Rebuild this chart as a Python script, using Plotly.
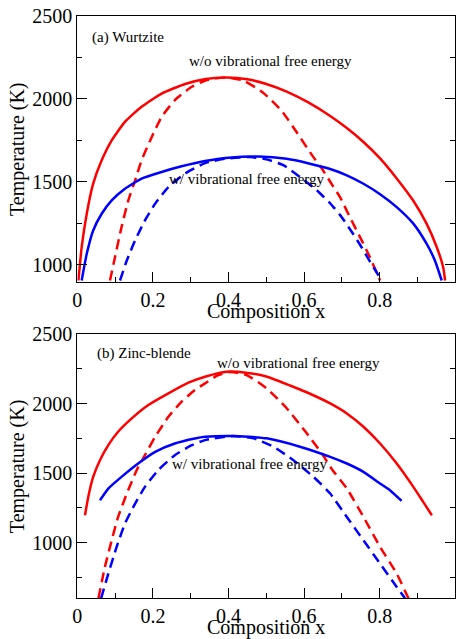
import plotly.graph_objects as go

# ---------------- Panel (a) Wurtzite ----------------
a_red_solid_x = [0.003, 0.0116, 0.025, 0.042, 0.0645, 0.091, 0.126, 0.170, 0.223, 0.285, 0.340,
                 0.395, 0.450, 0.500, 0.554, 0.610, 0.669, 0.713, 0.757, 0.801, 0.845, 0.889,
                 0.924, 0.951, 0.968, 0.973]
a_red_solid_y = [904, 1105, 1307, 1488, 1629, 1750, 1861, 1952, 2032, 2090, 2120,
                 2129, 2118, 2090, 2044, 1980, 1897, 1824, 1740, 1641, 1520, 1385,
                 1247, 1105, 984, 904]

a_red_dash_x = [0.0865, 0.0997, 0.117, 0.135, 0.153, 0.170, 0.197, 0.223, 0.258, 0.303, 0.345,
                0.395, 0.440, 0.490, 0.540, 0.580, 0.624, 0.647, 0.669, 0.695, 0.721, 0.748,
                0.774, 0.801]
a_red_dash_y = [904, 1045, 1226, 1388, 1508, 1629, 1770, 1891, 1992, 2073, 2115,
                2129, 2110, 2040, 1930, 1800, 1650, 1580, 1500, 1407, 1287, 1166,
                1045, 904]

a_blue_solid_x = [0.0116, 0.025, 0.042, 0.0645, 0.091, 0.126, 0.170, 0.223, 0.276, 0.338,
                  0.400, 0.480, 0.554, 0.610, 0.669, 0.713, 0.757, 0.801, 0.845, 0.889,
                  0.924, 0.946, 0.964]
a_blue_solid_y = [904, 1065, 1206, 1307, 1388, 1458, 1519, 1559, 1593, 1625,
                  1645, 1652, 1638, 1612, 1577, 1539, 1488, 1425, 1347, 1247,
                  1126, 1025, 904]

a_blue_dash_x = [0.113, 0.131, 0.153, 0.179, 0.206, 0.241, 0.285, 0.338, 0.395, 0.457,
                 0.500, 0.545, 0.589, 0.633, 0.669, 0.695, 0.721, 0.748, 0.774, 0.805]
a_blue_dash_y = [904, 1025, 1146, 1267, 1368, 1468, 1549, 1612, 1640, 1649,
                 1635, 1600, 1528, 1450, 1370, 1300, 1215, 1120, 1020, 904]

# ---------------- Panel (b) Zinc-blende ----------------
b_red_solid_x = [0.0204, 0.029, 0.042, 0.060, 0.082, 0.108, 0.144, 0.188, 0.241, 0.294, 0.340,
                 0.395, 0.450, 0.500, 0.571, 0.620, 0.669, 0.713, 0.757, 0.801, 0.845, 0.889,
                 0.915, 0.938]
b_red_solid_y = [1197, 1329, 1473, 1593, 1701, 1797, 1893, 1989, 2073, 2150, 2195,
                 2229, 2220, 2195, 2121, 2065, 2001, 1929, 1833, 1713, 1569, 1401,
                 1293, 1197]

b_blue_solid_x = [0.060, 0.082, 0.117, 0.161, 0.206, 0.258, 0.311, 0.338, 0.410, 0.501,
                  0.589, 0.669, 0.713, 0.757, 0.801, 0.827, 0.858]
b_blue_solid_y = [1305, 1389, 1473, 1569, 1653, 1713, 1749, 1761, 1767, 1750,
                  1690, 1617, 1569, 1509, 1425, 1377, 1300]

b_red_dash_x = [0.056, 0.073, 0.091, 0.108, 0.131, 0.157, 0.179, 0.206, 0.241, 0.276, 0.311,
                0.338, 0.370, 0.404, 0.448, 0.501, 0.554, 0.607, 0.651, 0.673, 0.713, 0.757,
                0.801, 0.845, 0.876]
b_red_dash_y = [600, 825, 1017, 1185, 1353, 1521, 1629, 1761, 1905, 2013, 2097,
                2145, 2200, 2227, 2205, 2109, 1966, 1786, 1625, 1530, 1390, 1185,
                969, 777, 600]

b_blue_dash_x = [0.063, 0.082, 0.104, 0.126, 0.153, 0.179, 0.214, 0.258, 0.303, 0.338,
                 0.413, 0.466, 0.519, 0.571, 0.624, 0.669, 0.713, 0.757, 0.801, 0.845, 0.867]
b_blue_dash_y = [600, 777, 969, 1137, 1281, 1401, 1521, 1629, 1701, 1737,
                 1767, 1750, 1690, 1594, 1475, 1353, 1185, 1017, 849, 681, 600]

x_ticks = [0, 0.2, 0.4, 0.6, 0.8, 1]
x_tick_text = ["0", "0.2", "0.4", "0.6", "0.8", "1"]
a_y_ticks = [1000, 1500, 2000, 2500]
b_y_ticks = [1000, 1500, 2000, 2500]

RED = "#ff0000"
BLUE = "#0000ff"
FONT = "Liberation Serif"
LW = 2.5
DASH = "10px,6px"

fig = go.Figure()

def add(x, y, color, dash, xa, ya):
    fig.add_trace(go.Scatter(x=x, y=y, mode="lines",
                             line=dict(color=color, width=LW, dash=dash, shape="spline", smoothing=0.5),
                             xaxis=xa, yaxis=ya, showlegend=False, hoverinfo="skip"))

add(a_red_solid_x, a_red_solid_y, RED, "solid", "x", "y")
add(a_red_dash_x, a_red_dash_y, RED, DASH, "x", "y")
add(a_blue_solid_x, a_blue_solid_y, BLUE, "solid", "x", "y")
add(a_blue_dash_x, a_blue_dash_y, BLUE, DASH, "x", "y")

add(b_red_solid_x, b_red_solid_y, RED, "solid", "x2", "y2")
add(b_red_dash_x, b_red_dash_y, RED, DASH, "x2", "y2")
add(b_blue_solid_x, b_blue_solid_y, BLUE, "solid", "x2", "y2")
add(b_blue_dash_x, b_blue_dash_y, BLUE, DASH, "x2", "y2")

W, H = 458, 639
xdom = [77.3 / W, 455.3 / W]
a_ydom = [1 - 282 / H, 1 - 16 / H]
b_ydom = [1 - 598.3 / H, 1 - 334 / H]

xaxis_common = dict(range=[0, 1], tickvals=x_ticks, ticktext=x_tick_text, ticks="inside", ticklen=10,
                    tickwidth=1.2, tickcolor="black", showline=True, linecolor="black", linewidth=1.3,
                    mirror=True, showgrid=False, zeroline=False, automargin=False,
                    tickfont=dict(family=FONT, size=20, color="black"),
                    minor=dict(dtick=0.1, ticks="inside", ticklen=5, tickwidth=1.2, tickcolor="black",
                               showgrid=False))
yaxis_common = dict(ticks="inside", ticklen=10, tickwidth=1.2, tickcolor="black", showline=True,
                    linecolor="black", linewidth=1.3, mirror="ticks", showgrid=False, zeroline=False,
                    automargin=False,
                    tickfont=dict(family=FONT, size=20, color="black"),
                    minor=dict(dtick=250, ticks="inside", ticklen=5, tickwidth=1.2, tickcolor="black",
                               showgrid=False))

fig.update_layout(
    template="none",
    width=W, height=H, margin=dict(l=0, r=0, t=0, b=0, autoexpand=False),
    paper_bgcolor="white", plot_bgcolor="white",
    font=dict(family=FONT, color="black"),
    xaxis=dict(domain=xdom, anchor="y", **xaxis_common),
    yaxis=dict(domain=a_ydom, anchor="x", range=[895, 2500], tickvals=a_y_ticks, **yaxis_common),
    xaxis2=dict(domain=xdom, anchor="y2", **xaxis_common),
    yaxis2=dict(domain=b_ydom, anchor="x2", range=[600, 2500], tickvals=b_y_ticks, **yaxis_common),
)

def ann(text, x, y, xref, yref, size, xanchor="left", textangle=0, yanchor="middle", yshift=0):
    fig.add_annotation(text=text, x=x, y=y, xref=xref, yref=yref, showarrow=False,
                       xanchor=xanchor, yanchor=yanchor, textangle=textangle, yshift=yshift,
                       font=dict(family=FONT, size=size, color="black"))

# panel labels and curve labels
ann("(a) Wurtzite", 0.034, 2373, "x", "y", 15)
ann("w/o vibrational free energy", 0.511, 2228, "x", "y", 15, "center")
ann("w/ vibrational free energy", 0.449, 1515, "x", "y", 15, "center")
ann("(b) Zinc-blende", 0.047, 2363, "x2", "y2", 15)
ann("w/o vibrational free energy", 0.584, 2291, "x2", "y2", 15, "center")
ann("w/ vibrational free energy", 0.458, 1564, "x2", "y2", 15, "center")

# axis titles
xc = (xdom[0] + xdom[1]) / 2
ann("Composition x", xc, 1 - 312 / H, "paper", "paper", 20, "center")
ann("Composition x", xc, 0, "paper", "paper", 20, "center", yanchor="bottom", yshift=-2)
ann("Temperature (K)", 17 / W, (a_ydom[0] + a_ydom[1]) / 2, "paper", "paper", 20, "center", -90)
ann("Temperature (K)", 17 / W, (b_ydom[0] + b_ydom[1]) / 2, "paper", "paper", 20, "center", -90)

fig.write_html("out.html")
